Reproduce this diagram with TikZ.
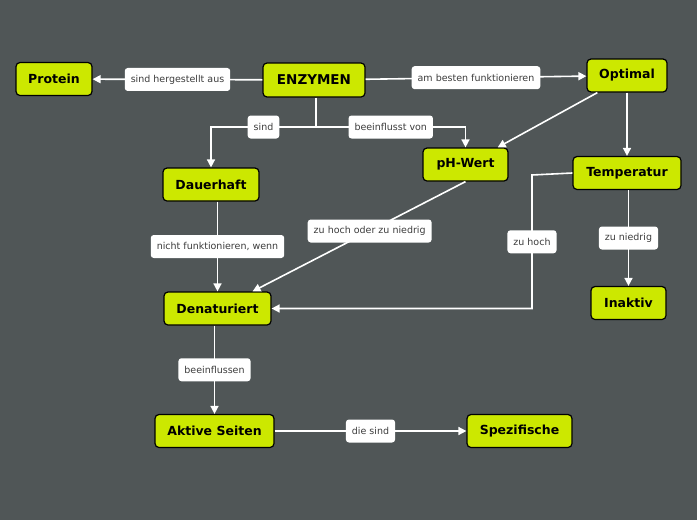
\documentclass[tikz,border=0pt]{standalone}
\usepackage{fontspec}
\setmainfont{DejaVu Sans}
\usepackage{xcolor}
\usepackage{tikz}
\usetikzlibrary{
arrows.meta
}
\definecolor{slate}{HTML}{505657}
\definecolor{lime}{HTML}{CCE800}
\definecolor{labeltext}{HTML}{3C3C3C}

\begin{document}
\begin{tikzpicture}[
x=1pt, y=-1pt,
box/.style={
rectangle,
rounded corners=4pt,
draw=black,
line width=1.2pt,
fill=lime,
minimum height=33pt,
inner sep=0pt,
font=\bfseries\fontsize{12.5}{14}\selectfont,
align=center
},
lbl/.style={
rectangle,
rounded corners=3pt,
fill=white,
text=labeltext,
minimum height=23pt,
inner xsep=6pt,
inner ysep=0pt,
font=\fontsize{9.5}{11}\selectfont
},
arrow/.style={-{Triangle[width=8pt,length=8pt]},draw=white,line width=1.6pt},
link/.style={draw=white,line width=1.6pt}
]

\fill[slate] (0,0) rectangle (697,520);
\useasboundingbox (0,0) rectangle (697,520);

\node[box, minimum width=76pt] (protein) at (54,79) {Protein};
\node[box, minimum width=102pt, minimum height=34pt, font=\bfseries\fontsize{13.5}{15}\selectfont] (enzymen) at (314,80) {ENZYMEN};
\node[box, minimum width=80pt] (optimal) at (627,75.5) {Optimal};
\node[box, minimum width=85pt] (phwert) at (465.5,164.5) {pH-Wert};
\node[box, minimum width=108pt] (temp) at (627,173) {Temperatur};
\node[box, minimum width=96pt] (dauer) at (211,184.5) {Dauerhaft};
\node[box, minimum width=107pt] (denat) at (217.5,308.5) {Denaturiert};
\node[box, minimum width=75pt] (inaktiv) at (628.5,303) {Inaktiv};
\node[box, minimum width=119pt] (aktiv) at (214.5,431) {Aktive Seiten};
\node[box, minimum width=105pt] (spezif) at (519.5,431) {Spezifische};

\coordinate (fork) at (316,127);
\coordinate (tcorner) at (532,175);

\draw[arrow] (enzymen) -- node[lbl]{sind hergestellt aus} (protein);
\draw[arrow] (enzymen) -- node[lbl]{am besten funktionieren} (optimal);
\draw[link] (enzymen.south -| fork) -- (fork);
\draw[arrow] (fork) -| node[lbl, pos=0.25]{sind} (dauer.north);
\draw[arrow] (fork) -| node[lbl, pos=0.25]{beeinflusst von} (phwert.north);
\draw[arrow] (optimal.210) -- (phwert.28);
\draw[arrow] (optimal) -- (temp);
\draw[arrow] (temp.west) -- (tcorner) |- node[lbl, pos=0.25]{zu hoch} (denat.east);
\draw[arrow] (temp.south -| inaktiv) -- node[lbl]{zu niedrig} (inaktiv.north);
\draw[arrow] (phwert.south) -- node[lbl, pos=0.45]{zu hoch oder zu niedrig} (denat.26);
\draw[arrow] (dauer.south -| denat.north) -- node[lbl]{nicht funktionieren, wenn} (denat.north);
\draw[arrow] (denat.south -| aktiv.north) -- node[lbl]{beeinflussen} (aktiv.north);
\draw[arrow] (aktiv) -- node[lbl]{die sind} (spezif);

\end{tikzpicture}
\end{document}
